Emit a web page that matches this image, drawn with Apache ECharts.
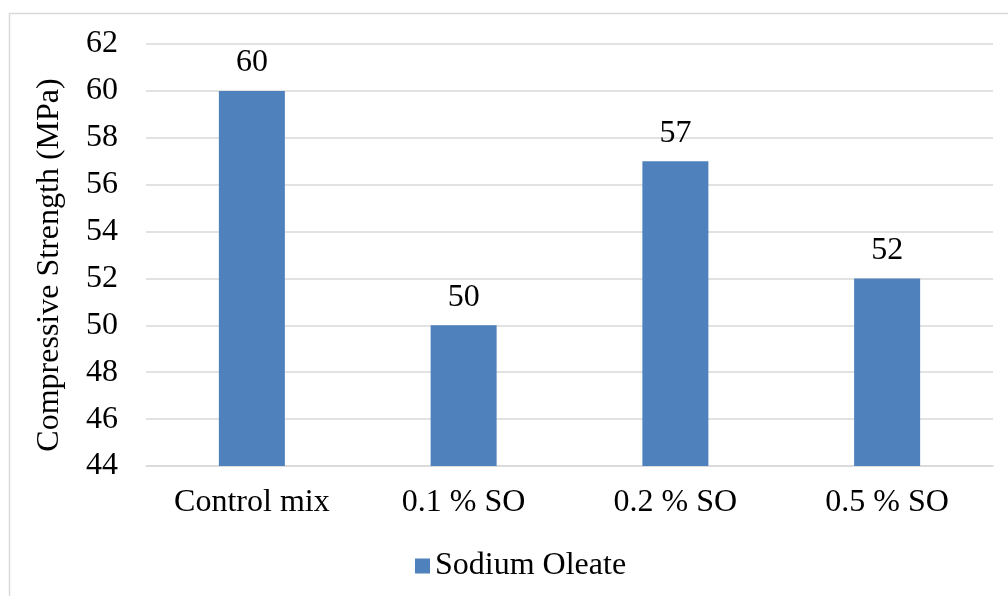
<!DOCTYPE html>
<html><head><meta charset="utf-8">
<script src="https://cdn.jsdelivr.net/npm/echarts@6/dist/echarts.min.js"></script>
<style>html,body{margin:0;padding:0;background:#fff}#c{width:1008px;height:596px}</style>
</head><body><div id="c"></div>
<script>
const categories = ['Control mix', '0.1 % SO', '0.2 % SO', '0.5 % SO'];
const sodiumOleate = [60, 50, 57, 52];
const seriesName = 'Sodium Oleate';
const yTitle = 'Compressive Strength (MPa)';
const FONT = '"Liberation Serif", "Times New Roman", serif';
const chart = echarts.init(document.getElementById('c'), null, {renderer: 'canvas'});
chart.setOption({
  animation: false,
  backgroundColor: '#fff',
  graphic: [{type: 'rect', shape: {x: 9.5, y: 13.5, width: 1010, height: 600}, style: {fill: null, stroke: '#d9d9d9', lineWidth: 1.5}, z: -1}],
  grid: {left: 146, right: 15, top: 44, bottom: 130},
  legend: {data: [seriesName], bottom: 9, left: 410, itemWidth: 15, itemHeight: 15, itemGap: 8,
    icon: 'rect', textStyle: {fontFamily: FONT, fontSize: 32, color: '#000'}},
  xAxis: {type: 'category', data: categories,
    axisLine: {lineStyle: {color: '#d9d9d9', width: 1.5}}, axisTick: {show: false},
    axisLabel: {fontFamily: FONT, fontSize: 32, color: '#000', margin: 21}},
  yAxis: {type: 'value', min: 44, max: 62, interval: 2,
    name: yTitle, nameLocation: 'middle', nameGap: 80, nameRotate: 90,
    nameTextStyle: {fontFamily: FONT, fontSize: 32, color: '#000', padding: [0, 20, 0, 0]},
    axisLine: {show: false}, axisTick: {show: false},
    axisLabel: {fontFamily: FONT, fontSize: 32, color: '#000', margin: 28},
    splitLine: {lineStyle: {color: '#d9d9d9', width: 1.5}}},
  series: [{name: seriesName, type: 'bar', data: sodiumOleate, barWidth: 66,
    itemStyle: {color: '#4f81bd'},
    label: {show: true, position: 'top', distance: 12, fontFamily: FONT, fontSize: 32, color: '#000'}}]
});
</script></body></html>
